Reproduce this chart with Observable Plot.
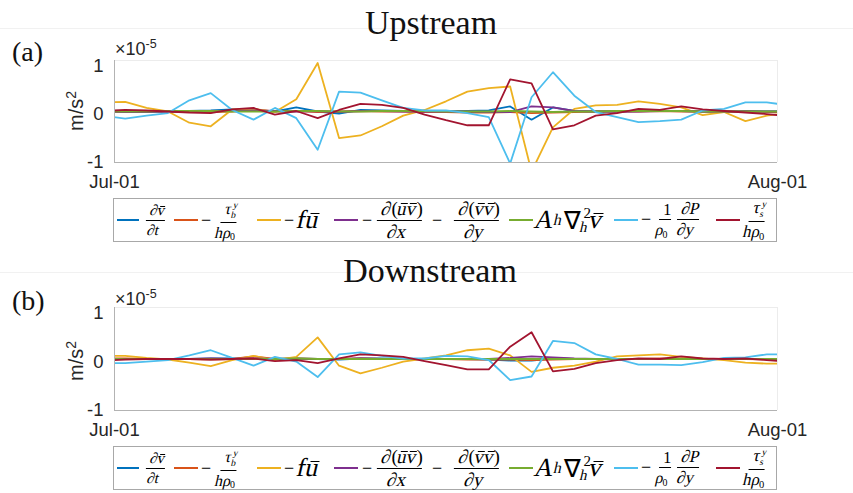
<!DOCTYPE html>
<html>
<head>
<meta charset="utf-8">
<script src="https://cdn.jsdelivr.net/npm/d3@7"></script>
<script src="https://cdn.jsdelivr.net/npm/@observablehq/plot@0.6"></script>
<style>
  html, body { margin: 0; padding: 0; background: #fff; }
  #fig { position: relative; width: 853px; height: 493px; overflow: hidden; background: #fff; }
  .sep { position: absolute; left: 0; width: 853px; height: 0; border-top: 1px solid #f1f1f1; }
  .title { position: absolute; font-family: "Liberation Serif", "Times New Roman", serif; font-size: 34px; line-height: 1; color: #111; transform: translateX(-50%); white-space: nowrap; }
  .tag { position: absolute; font-family: "Liberation Serif", "Times New Roman", serif; font-size: 28px; line-height: 1; color: #111; }
  .exp { position: absolute; font-family: "Liberation Sans", Arial, sans-serif; font-size: 18px; line-height: 1; color: #262626; white-space: nowrap; }
  .exp sup { font-size: 12.5px; vertical-align: 0.6em; line-height: 0; }
  .ylab { position: absolute; width: 70px; height: 20px; text-align: center; font-family: "Liberation Sans", Arial, sans-serif; font-size: 20px; line-height: 1; color: #262626; transform: rotate(-90deg); white-space: nowrap; }
  .ylab sup { font-size: 14px; vertical-align: 0.5em; line-height: 0; }
  .panel { position: absolute; left: 0; }
  .legend { position: absolute; left: 113px; width: 664px; height: 44px; border: 1px solid #a8a8a8; box-sizing: border-box; background: #fff; }
  .sw { position: absolute; top: 50%; margin-top: -1px; height: 0; border-top: 2px solid; }
  .lab { position: absolute; top: 0; height: 100%; display: flex; align-items: center; font-family: "Liberation Serif", "Times New Roman", serif; font-style: normal; font-size: 26px; color: #000; white-space: nowrap; }
  .sk { display: inline-flex; align-items: center; transform: skewX(-13deg); }
  .up { display: inline-block; transform: skewX(13deg); }
  .mi { display: inline-block; transform: skewX(13deg); font-size: 18px; margin: 0 3px 0 1px; }
  .mi.mid { margin: 0 10px 0 8px; }
  .frac { display: inline-flex; flex-direction: column; align-items: center; line-height: 0.95; margin: 0 2px; }
  .frac .num { border-bottom: 1px solid #000; padding: 0 2px 2px; }
  .frac .den { padding: 2px 2px 0; }
  .ss { display: inline-flex; flex-direction: column; font-size: 9.5px; line-height: 10px; margin-left: 1px; vertical-align: 6px; }
  .ss.big { font-size: 15px; line-height: 14px; vertical-align: 8px; }
  .ob { position: relative; display: inline-block; line-height: 1; }
  .ob::before { content: ""; position: absolute; left: 22%; right: 6%; top: 0.22em; border-top: 1px solid currentColor; }
  .lab sub { font-size: 0.62em; vertical-align: -0.25em; line-height: 0; }
  .nabla { display: inline-block; transform: skewX(13deg); font-size: 0.95em; margin-left: 2px; }
</style>
</head>
<body>
<div id="fig"></div>
<script>
// Momentum-balance terms of the along-channel (v) equation, in units of 1e-5 m/s^2.
const terms = ["dvdt", "bottomStress", "coriolis", "advection", "diffusion", "pressureGradient", "windStress"];
const colors = ["#0072BD", "#D95319", "#EDB120", "#7E2F8E", "#77AC30", "#4DBEEE", "#A2142F"];

// Daily samples at noon, from Jun 30 to Aug 1 (the axis shows Jul-01 .. Aug-01).
const dayOffsets = d3.range(-1, 32);
const times = dayOffsets.map(k => new Date(Date.UTC(2020, 6, 1, 12) + k * 864e5));
const xStart = new Date(Date.UTC(2020, 6, 1));
const xEnd = new Date(Date.UTC(2020, 7, 1));
const yTicks = [1, 0, -1];

// (a) Upstream
const upDvdt = [0.01, 0.00, 0.00, 0.00, 0.01, 0.02, 0.04, 0.02, 0.00, 0.08, 0.00,
                -0.04, 0.03, 0.02, 0.01, 0.00, 0.00, 0.01, 0.02, 0.10, -0.16, 0.08,
                0.01, 0.00, 0.00, 0.01, 0.01, 0.01, 0.00, 0.00, 0.01, 0.00, 0.00];
const upBottom = [0.00, 0.00, 0.01, 0.00, -0.01, -0.01, 0.00, 0.04, 0.00, 0.01, -0.01,
                  0.00, 0.01, 0.00, 0.00, -0.01, -0.01, -0.02, -0.02, -0.01, -0.03, -0.02,
                  -0.01, 0.00, 0.00, 0.00, 0.01, 0.00, 0.00, 0.00, 0.00, -0.01, -0.01];
const upCoriolis = [0.18, 0.19, 0.07, 0.00, -0.22, -0.29, 0.04, 0.05, -0.01, 0.24, 0.95,
                    -0.52, -0.47, -0.29, -0.08, 0.03, 0.20, 0.39, 0.46, 0.49, -1.18, -0.31,
                    0.05, 0.12, 0.13, 0.20, 0.15, 0.08, -0.07, -0.01, -0.19, -0.08, -0.03];
const upAdvection = [0.00, -0.01, -0.01, 0.00, 0.00, 0.01, 0.01, 0.02, 0.01, 0.00, 0.01,
                     -0.01, 0.01, 0.01, 0.00, 0.00, 0.00, 0.00, -0.01, -0.01, 0.10, 0.08,
                     0.01, 0.00, 0.00, 0.00, 0.01, 0.01, 0.00, 0.00, 0.00, 0.00, 0.00];
const upDiffusion = [0.00, 0.00, 0.00, 0.01, 0.01, 0.01, 0.00, 0.00, 0.00, 0.01, 0.01,
                     0.00, 0.00, 0.01, 0.01, 0.01, 0.00, 0.00, 0.00, 0.01, 0.00, -0.01,
                     0.00, 0.00, 0.01, 0.01, 0.01, 0.01, 0.00, 0.00, 0.00, 0.00, 0.00];
const upPressure = [-0.08, -0.14, -0.08, -0.03, 0.22, 0.36, 0.03, -0.16, 0.07, -0.13, -0.75,
                    0.39, 0.37, 0.22, 0.07, 0.02, 0.02, -0.03, -0.11, -1.02, 0.28, 0.77,
                    0.31, -0.01, -0.11, -0.21, -0.19, -0.16, 0.02, 0.05, 0.18, 0.18, 0.12];
const upWind = [0.01, 0.03, 0.02, 0.00, -0.02, -0.03, 0.04, 0.07, -0.06, 0.01, -0.13,
                0.03, 0.15, 0.13, 0.07, -0.06, -0.17, -0.27, -0.27, 0.63, 0.55, -0.35,
                -0.27, -0.08, -0.03, 0.05, 0.03, 0.10, 0.04, 0.01, -0.02, -0.05, -0.09];

// (b) Downstream
const dnDvdt = [0.00, 0.00, 0.00, 0.00, 0.00, 0.01, 0.01, 0.00, 0.00, 0.01, 0.00,
                -0.01, 0.01, 0.01, 0.00, 0.00, 0.00, 0.00, -0.01, -0.03, -0.03, 0.01,
                0.00, 0.00, 0.00, 0.00, 0.00, 0.00, 0.00, 0.00, 0.00, 0.00, 0.00];
const dnBottom = [0.01, 0.01, 0.00, 0.00, 0.00, -0.01, 0.00, 0.05, 0.00, 0.01, 0.00,
                  0.00, 0.01, 0.00, 0.00, 0.00, 0.00, -0.01, -0.01, -0.01, -0.02, -0.01,
                  0.00, 0.00, 0.00, 0.00, 0.01, 0.00, 0.00, 0.00, 0.00, -0.01, -0.01];
const dnCoriolis = [0.06, 0.06, 0.02, -0.01, -0.07, -0.14, -0.02, 0.06, -0.02, 0.04, 0.42,
                    -0.13, -0.28, -0.17, -0.05, 0.01, 0.07, 0.17, 0.20, 0.07, -0.25, -0.17,
                    -0.13, -0.05, 0.05, 0.07, 0.09, 0.04, 0.01, -0.02, -0.07, -0.09, -0.09];
const dnAdvection = [0.00, 0.00, 0.00, 0.00, 0.00, 0.01, 0.00, 0.01, 0.00, 0.00, 0.00,
                     0.00, 0.01, 0.00, 0.00, 0.00, 0.00, 0.00, 0.00, 0.02, 0.05, 0.03,
                     0.01, 0.00, 0.00, 0.00, 0.00, 0.00, 0.00, 0.00, 0.00, 0.00, 0.00];
const dnDiffusion = [0.00, 0.00, 0.00, 0.00, 0.00, 0.00, 0.00, 0.00, 0.00, 0.01, 0.00,
                     0.00, 0.00, 0.00, 0.00, 0.00, 0.00, 0.00, 0.00, 0.00, 0.00, 0.00,
                     0.00, 0.00, 0.00, 0.00, 0.00, 0.00, 0.00, 0.00, 0.00, 0.00, 0.00];
const dnPressure = [-0.08, -0.08, -0.05, -0.02, 0.07, 0.17, 0.02, -0.13, 0.04, -0.05, -0.35,
                    0.09, 0.13, 0.06, 0.01, 0.01, 0.06, 0.05, -0.02, -0.41, -0.34, 0.35,
                    0.31, 0.09, 0.00, -0.11, -0.11, -0.12, -0.06, 0.02, 0.03, 0.09, 0.09];
const dnWind = [-0.03, -0.01, 0.00, 0.00, 0.00, -0.01, 0.00, 0.01, -0.04, -0.02, -0.08,
                0.01, 0.09, 0.07, 0.04, -0.04, -0.12, -0.20, -0.20, 0.24, 0.52, -0.24,
                -0.19, -0.08, -0.02, 0.01, 0.00, 0.05, 0.01, 0.00, 0.01, -0.02, -0.05];

const fig = document.getElementById("fig");

function add(html, cls, style) {
  const el = document.createElement("div");
  el.className = cls;
  el.innerHTML = html;
  Object.assign(el.style, style);
  fig.appendChild(el);
  return el;
}

const yFormat = d => (d < 0 ? "-" + Math.abs(d) : String(d));

function panel(series, svgTop, frameHeight) {
  const rows = [];
  terms.forEach((t, j) => series[j].forEach((v, i) => rows.push({time: times[i], value: v, term: t})));
  const svg = Plot.plot({
    width: 853,
    height: frameHeight + 20 + 31,
    marginLeft: 114,
    marginRight: 76,
    marginTop: 20,
    marginBottom: 31,
    style: {fontFamily: '"Liberation Sans", Arial, sans-serif', fontSize: "18.5px", color: "#262626", background: "transparent"},
    x: {type: "utc", domain: [xStart, xEnd], axis: null},
    y: {domain: [-1, 1], axis: null},
    color: {domain: terms, range: colors},
    marks: [
      Plot.ruleY([1], {stroke: "#ececec"}),
      Plot.ruleX([xEnd], {stroke: "#ececec"}),
      Plot.lineY(rows, {x: "time", y: "value", z: "term", stroke: "term", strokeWidth: 1.8, clip: true}),
      Plot.ruleX([xStart], {stroke: "#b3b3b3"}),
      Plot.ruleY([-1], {stroke: "#b3b3b3"}),
      Plot.axisX({ticks: [xStart, xEnd], tickFormat: d3.utcFormat("%b-%d"), tickSize: 0, tickPadding: 12, label: null}),
      Plot.axisY({ticks: [yTicks[0]], tickFormat: yFormat, tickSize: 0, tickPadding: 11, dy: 6, label: null}),
      Plot.axisY({ticks: [yTicks[1]], tickFormat: yFormat, tickSize: 0, tickPadding: 11, dy: 3, label: null}),
      Plot.axisY({ticks: [yTicks[2]], tickFormat: yFormat, tickSize: 0, tickPadding: 11, dy: 0, label: null})
    ]
  });
  svg.classList.add("panel");
  svg.style.top = svgTop + "px";
  fig.appendChild(svg);
}

// Legend labels (LaTeX-style math set as HTML; letters slanted, digits and operators upright)
const ob = s => `<span class="ob">${s}</span>`;
const up = s => `<span class="up">${s}</span>`;
const minus = `<span class="mi">−</span>`;
const minusMid = `<span class="mi mid">−</span>`;
const ss = (sup, sub, cls = "") => `<span class="ss ${cls}"><span>${sup}</span><span>${sub}</span></span>`;
const frac = (n, d, fs) => `<span class="frac" style="font-size:${fs}px"><span class="num">${n}</span><span class="den">${d}</span></span>`;
const legendLabels = [
  frac(`∂${ob("v")}`, "∂t", 15),
  `${minus}${frac(`τ${ss("y", "b")}`, `hρ<sub>${up("0")}</sub>`, 16)}`,
  `${minus}f${ob("u")}`,
  `${minus}${frac(`∂${up("(")}${ob("u")}${ob("v")}${up(")")}`, "∂x", 19)}${minusMid}${frac(`∂${up("(")}${ob("v")}${ob("v")}${up(")")}`, "∂y", 19)}`,
  `A<sub>h</sub><span class="nabla">∇</span>${ss(up("2"), "h", "big")}${ob("v")}`,
  `${minus}${frac(up("1"), `ρ<sub>${up("0")}</sub>`, 16)}${frac("∂P", "∂y", 17)}`,
  frac(`τ${ss("y", "s")}`, `hρ<sub>${up("0")}</sub>`, 17)
];
const swatchX = [[3, 25], [60, 84], [143, 167], [220, 244], [395, 419], [500, 524], [602, 626]];
const labelX = [30, 86, 169, 247, 421, 526, 628];

function legend(top) {
  const box = add("", "legend", {top: top + "px"});
  terms.forEach((t, j) => {
    const sw = document.createElement("div");
    sw.className = "sw";
    Object.assign(sw.style, {left: swatchX[j][0] + "px", width: (swatchX[j][1] - swatchX[j][0]) + "px", borderTopColor: colors[j]});
    box.appendChild(sw);
    const lab = document.createElement("div");
    lab.className = "lab";
    lab.style.left = labelX[j] + "px";
    lab.innerHTML = `<span class="sk">${legendLabels[j]}</span>`;
    box.appendChild(lab);
  });
}

// Faint separators between the two panels
add("", "sep", {top: "28px"});
add("", "sep", {top: "272px"});

// (a) Upstream
add("Upstream", "title", {left: "431px", top: "5.5px"});
add("(a)", "tag", {left: "12px", top: "38px"});
add("×10<sup>-5</sup>", "exp", {left: "115px", top: "40px"});
add("m/s<sup>2</sup>", "ylab", {left: "41px", top: "101px"});
panel([upDvdt, upBottom, upCoriolis, upAdvection, upDiffusion, upPressure, upWind], 40, 102);
legend(198);

// (b) Downstream
add("Downstream", "title", {left: "430px", top: "253.5px"});
add("(b)", "tag", {left: "12px", top: "287px"});
add("×10<sup>-5</sup>", "exp", {left: "115px", top: "290px"});
add("m/s<sup>2</sup>", "ylab", {left: "41px", top: "351px"});
panel([dnDvdt, dnBottom, dnCoriolis, dnAdvection, dnDiffusion, dnPressure, dnWind], 287, 103);
legend(446);
</script>
</body>
</html>
